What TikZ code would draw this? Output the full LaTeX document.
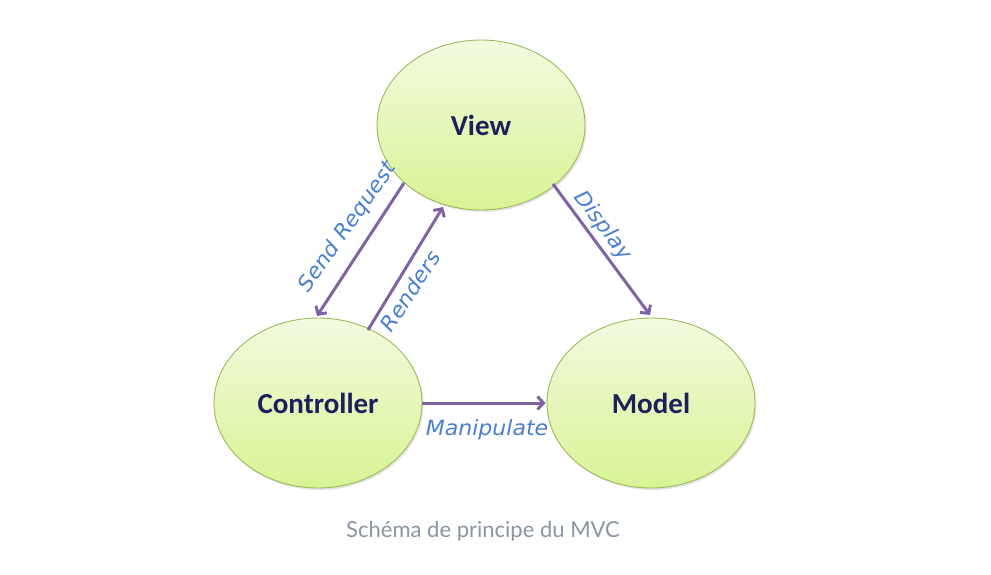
\documentclass[tikz,border=0pt]{standalone}
\usepackage{fontspec}
\setmainfont{Carlito}
\newfontfamily\capfont{Lato}
\newfontfamily\handfont[FakeStretch=1.05]{DejaVu Sans}
\usetikzlibrary{shapes.geometric,arrows.meta,shadows}
\definecolor{fillTop}{HTML}{F3FADF}
\definecolor{fillBot}{HTML}{D8F395}
\definecolor{edgeGreen}{HTML}{9BBB59}
\definecolor{arrowPurple}{HTML}{8064A2}
\definecolor{labelBlue}{HTML}{4A7FD0}
\definecolor{nodeText}{HTML}{1F1F5C}
\definecolor{capGray}{HTML}{8A95A3}
\tikzset{
  mvc/.style={ellipse, draw=edgeGreen, line width=0.9pt, top color=fillTop, bottom color=fillBot,
    minimum width=208pt, minimum height=170pt, inner sep=0pt,
    font=\fontsize{29}{34}\selectfont\bfseries, text=nodeText,
    drop shadow={shadow xshift=1.5pt, shadow yshift=-2pt, fill=black!30, opacity=0.35}},
  link/.style={draw=arrowPurple, line width=3pt, -{Straight Barb[length=6pt,width=13pt]}},
  lbl/.style={font=\handfont\itshape\fontsize{21}{24}\selectfont, text=labelBlue, inner sep=1pt},
}
\begin{document}
\begin{tikzpicture}[x=1pt,y=-1pt]
\useasboundingbox (0,0) rectangle (991,575);
\node[mvc] (view) at (481,125) {View};
\node[mvc] (ctrl) at (318,403) {Controller};
\node[mvc] (model) at (651,403) {Model};
\coordinate (sA) at (404,183);
\coordinate (sB) at (317,316);
\coordinate (rA) at (368,330);
\coordinate (rB) at (443,207);
\coordinate (dA) at (553,184);
\coordinate (dB) at (650,315);
\draw[link] (sA) -- (sB);
\draw[link] (rA) -- (rB);
\draw[link] (dA) -- (dB);
\draw[link] (ctrl.east) -- ([xshift=-1pt]model.west);
\node[lbl, rotate=55] (tsend) at (348,227) {Send Request};
\node[lbl, rotate=57] (trend) at (410,291) {Renders};
\node[lbl, rotate=-53] (tdisp) at (603,226) {Display};
\node[lbl] (tmanip) at (487,430) {Manipulate};
\node[font=\capfont\fontsize{22}{26}\selectfont, text=capGray] (cap) at (483,531) {Schéma de principe du MVC};
\end{tikzpicture}
\end{document}
